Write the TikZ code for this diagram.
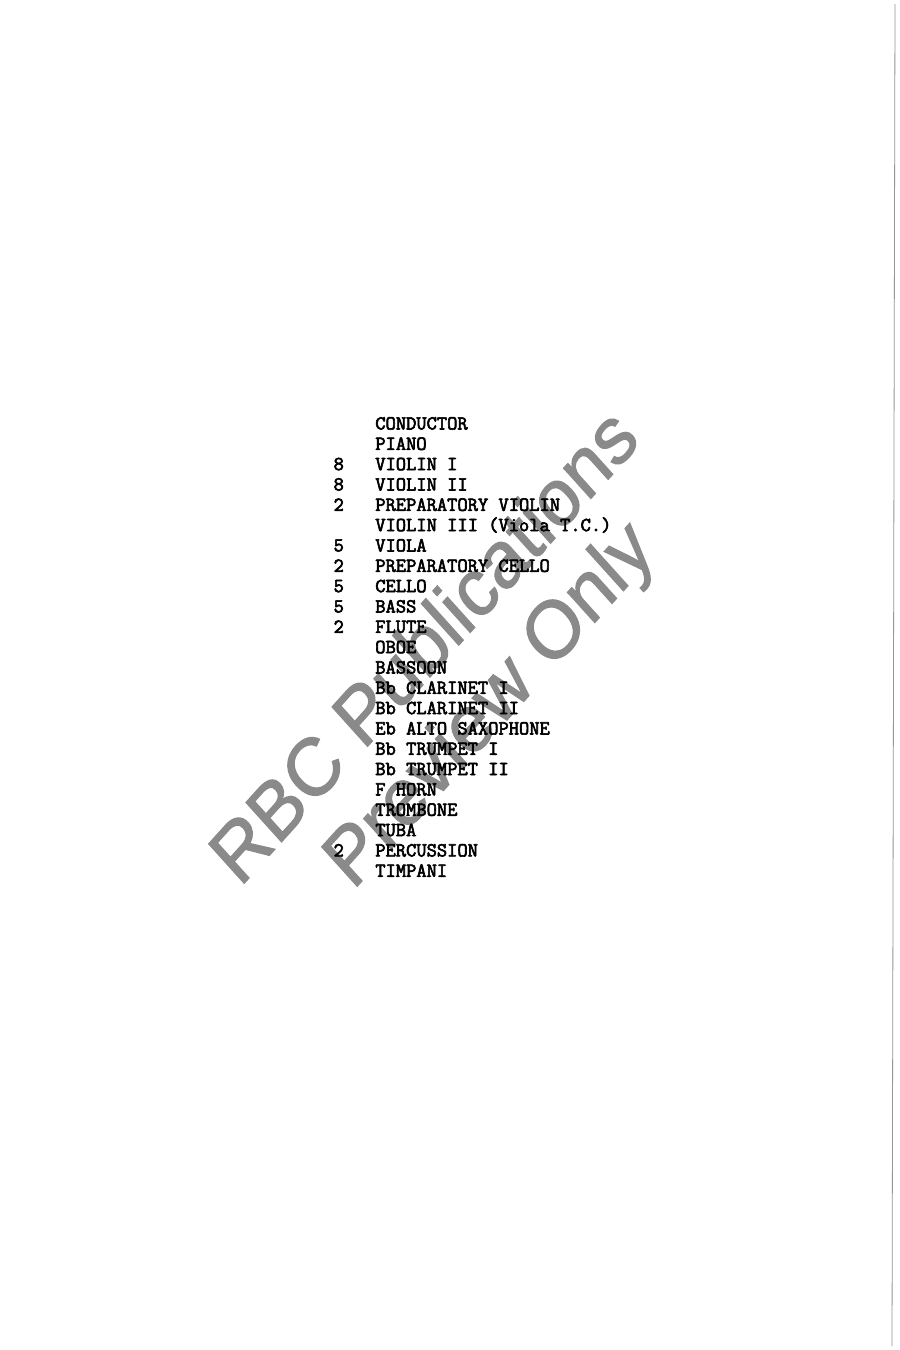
\documentclass[tikz,border=0pt]{standalone}
\usepackage{fontspec}
\newfontfamily\tw{Latin Modern Mono}[FakeBold=3]
\newfontfamily\wmfont{Liberation Sans}[FakeBold=1.5]
\definecolor{wmgray}{RGB}{138,138,138}
\definecolor{edgegray}{RGB}{150,150,150}
\tikzset{
  item/.style={anchor=base west, inner sep=0pt, outer sep=0pt, font=\tw\fontsize{14.95}{17}\selectfont, text=black},
  wm/.style={anchor=base west, inner sep=0pt, outer sep=0pt, rotate=45, font=\wmfont\fontsize{54.8}{60}\selectfont, text=wmgray}
}
\begin{document}
\begin{tikzpicture}[x=0.75pt,y=-0.75pt]
\fill[white] (0,0) rectangle (900,1350);
\useasboundingbox (0,0) rectangle (900,1350);
% scan edge
\coordinate (et) at (895,4);
\coordinate (eb) at (892,1346);
\draw[edgegray, line width=0.6pt] (et) -- (eb);
% watermark (rotated 45 degrees, then stretched vertically)
\begin{scope}[shift={(240,888)}, yscale=1.11, transform shape]
  \node[wm] (wm1) at (0,0) {RBC Publications};
\end{scope}
\begin{scope}[shift={(353,891)}, yscale=1.11, transform shape]
  \node[wm] (wm2) at (0,0) {Preview Only};
\end{scope}
% list
\foreach \i/\t in {0/CONDUCTOR,1/PIANO,2/VIOLIN I,3/VIOLIN II,4/PREPARATORY VIOLIN,5/VIOLIN III (Viola T.C.),6/VIOLA,7/PREPARATORY CELLO,8/CELLO,9/BASS,10/FLUTE,11/OBOE,12/BASSOON,13/Bb CLARINET I,14/Bb CLARINET II,15/Eb ALTO SAXOPHONE,16/Bb TRUMPET I,17/Bb TRUMPET II,18/F HORN,19/TROMBONE,20/TUBA,21/PERCUSSION,22/TIMPANI}
  \node[item] (l\i) at (375.3,{429.5+20.33*\i}) {\t};
\foreach \i/\n in {2/8,3/8,4/2,6/5,7/2,8/5,9/5,10/2,21/2}
  \node[item] (n\i) at (333.6,{429.5+20.33*\i}) {\n};
\end{tikzpicture}
\end{document}
